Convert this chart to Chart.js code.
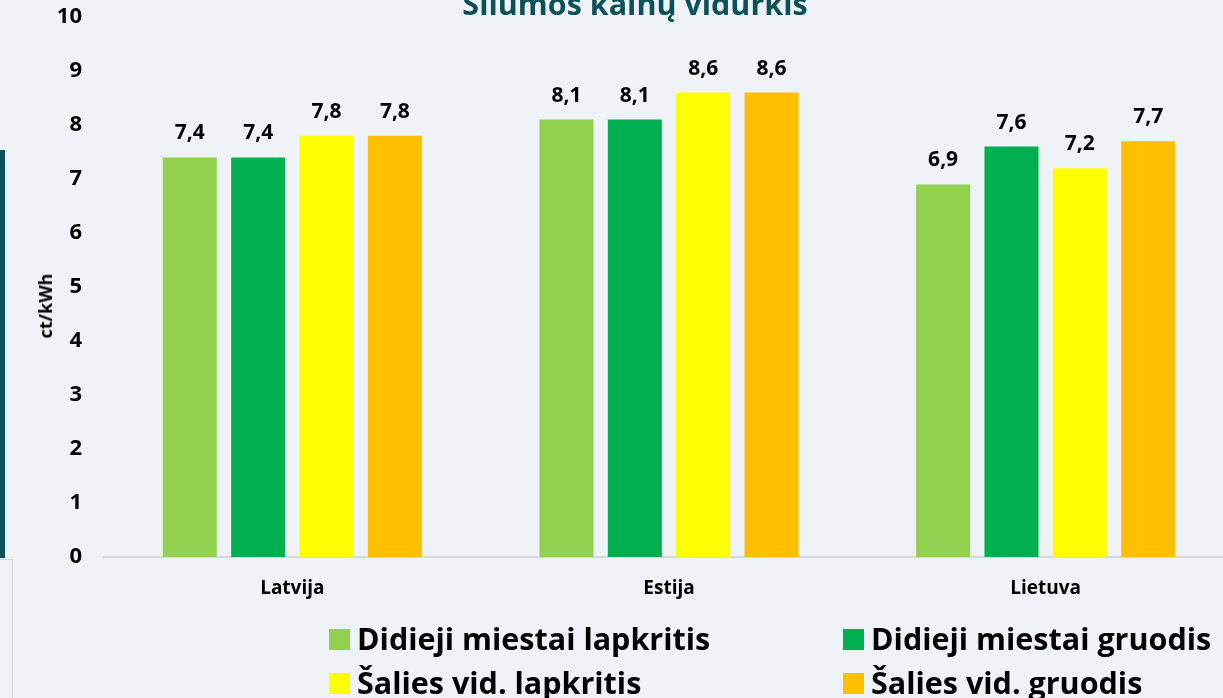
<!DOCTYPE html>
<html>
<head>
<meta charset="utf-8">
<script src="https://cdn.jsdelivr.net/npm/chart.js@4.4.1/dist/chart.umd.min.js"></script>
<style>
  html, body { margin: 0; padding: 0; width: 1223px; height: 698px; overflow: hidden; background: #eff3f7; }
  body { position: relative; font-family: "Open Sans", sans-serif; }
  #wrap { position: absolute; left: 0; top: 0; width: 1234px; height: 698px; }
  #title { position: absolute; left: 0; width: 1270px; top: -12px; text-align: center; font-weight: 700; font-size: 30.5px; line-height: 30.5px; color: #0b5159; white-space: nowrap; }
  #ytitle { position: absolute; left: 45px; top: 306px; transform: translate(-50%, -50%) rotate(-90deg); font-weight: 700; font-size: 18px; line-height: 18px; color: #000; white-space: nowrap; }
  #stripe { position: absolute; left: 0; top: 150px; width: 5px; height: 408px; background: #0b5159; }
  #box { position: absolute; left: -2px; top: 559px; width: 14px; height: 200px; border-top: 1px solid #d6d9dc; border-right: 1px solid #d6d9dc; }
  .sw { position: absolute; width: 21px; height: 21px; }
  .tx { position: absolute; font-weight: 700; font-size: 30.5px; line-height: 30.5px; color: #000; white-space: nowrap; }
</style>
</head>
<body>
<div id="stripe"></div>
<div id="box"></div>
<div id="wrap"><canvas id="c" width="1234" height="698"></canvas></div>
<div id="title">Šilumos kainų vidurkis</div>
<div id="ytitle">ct/kWh</div>
<div id="legend"></div>
<script>
const categories = ["Latvija", "Estija", "Lietuva"];
const seriesNames = ["Didieji miestai lapkritis", "Didieji miestai gruodis", "Šalies vid. lapkritis", "Šalies vid. gruodis"];
const didiejiLapkritis = [7.4, 8.1, 6.9];
const didiejiGruodis = [7.4, 8.1, 7.6];
const saliesLapkritis = [7.8, 8.6, 7.2];
const saliesGruodis = [7.8, 8.6, 7.7];
const seriesColors = ["#92d050", "#00b050", "#ffff00", "#ffc000"];
const yTicks = [0, 1, 2, 3, 4, 5, 6, 7, 8, 9, 10];

const seriesValues = [didiejiLapkritis, didiejiGruodis, saliesLapkritis, saliesGruodis];
const FONT = "'Open Sans', sans-serif";

const valueLabels = {
  id: 'valueLabels',
  afterDatasetsDraw(chart) {
    const ctx = chart.ctx;
    ctx.save();
    ctx.font = "bold 21px " + FONT;
    ctx.fillStyle = "#000";
    ctx.textAlign = "center";
    ctx.textBaseline = "middle";
    chart.data.datasets.forEach((ds, i) => {
      chart.getDatasetMeta(i).data.forEach((bar, j) => {
        ctx.fillText(String(ds.data[j]).replace('.', ','), bar.x, bar.y - 24);
      });
    });
    ctx.restore();
  }
};

const chart = new Chart(document.getElementById('c'), {
  type: 'bar',
  data: {
    labels: categories,
    datasets: seriesNames.map((n, i) => ({
      label: n,
      data: seriesValues[i],
      backgroundColor: seriesColors[i],
      borderWidth: 0,
      barPercentage: 0.79,
      categoryPercentage: 0.726
    }))
  },
  options: {
    responsive: false,
    animation: false,
    layout: { padding: { top: 17, right: 0, bottom: 0, left: 0 } },
    plugins: { legend: { display: false }, title: { display: false }, tooltip: { enabled: false } },
    scales: {
      x: {
        grid: { display: false, drawTicks: false },
        border: { display: true, color: '#d6d9dc', width: 2 },
        ticks: { font: { family: FONT, size: 19, weight: 'bold' }, color: '#000', padding: 20 },
        afterFit(s) { s.height = 141; s.paddingLeft = 0; s.paddingRight = 0; }
      },
      y: {
        min: 0, max: 10,
        afterBuildTicks(s) { s.ticks = yTicks.map(v => ({ value: v })); },
        grid: { display: false, drawTicks: false },
        border: { display: false },
        ticks: { font: { family: FONT, size: 22, weight: 'bold' }, color: '#000', padding: 22 },
        afterFit(s) { s.width = 104; s.paddingTop = 0; s.paddingBottom = 0; }
      }
    }
  },
  plugins: [valueLabels]
});

// legend in 2x2 grid, built from the chart's datasets
const legPos = [[329, 629], [843, 629], [329, 673], [843, 673]];
const legend = document.getElementById('legend');
chart.data.datasets.forEach((ds, i) => {
  const sw = document.createElement('div');
  sw.className = 'sw';
  sw.style.left = legPos[i][0] + 'px';
  sw.style.top = legPos[i][1] + 'px';
  sw.style.background = ds.backgroundColor;
  const tx = document.createElement('div');
  tx.className = 'tx';
  tx.style.left = (legPos[i][0] + 28) + 'px';
  tx.style.top = (legPos[i][1] + 21 - 27) + 'px';
  tx.textContent = ds.label;
  legend.appendChild(sw);
  legend.appendChild(tx);
});
</script>
</body>
</html>
